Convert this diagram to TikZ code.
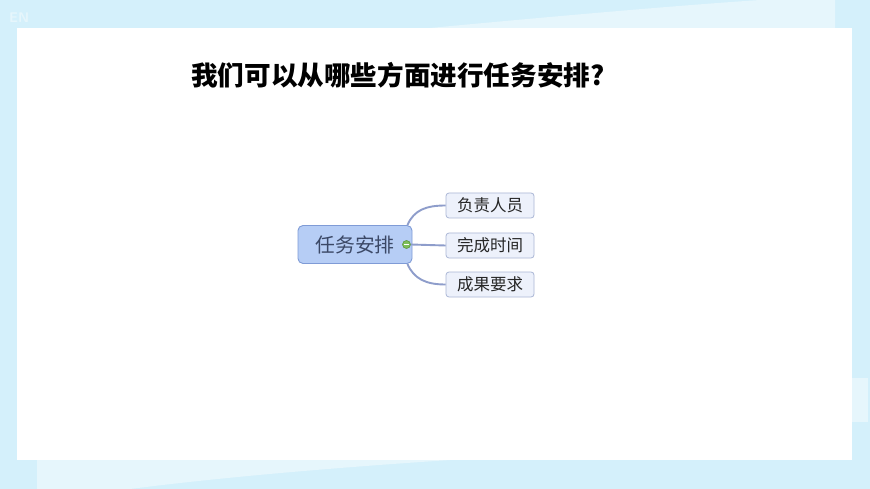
\documentclass[tikz,border=0pt]{standalone}
\usepackage{fontspec}
\newfontfamily\cjk{Noto Sans CJK SC}
\usetikzlibrary{calc}
\definecolor{bgblue}{HTML}{D4F0FB}
\definecolor{bglight}{HTML}{E6F6FC}
\definecolor{mainfill}{HTML}{B6CDF5}
\definecolor{mainborder}{HTML}{7F9BD6}
\definecolor{subfill}{HTML}{EDF1FB}
\definecolor{subborder}{HTML}{AAB6D6}
\definecolor{linkc}{HTML}{8E9DCB}
\definecolor{maintext}{HTML}{3B4866}
\definecolor{btngreen}{HTML}{7DBE5A}
\definecolor{btnborder}{HTML}{5E9A3E}
\tikzset{
  mainbox/.style={draw=mainborder, fill=mainfill, rounded corners=5pt, line width=0.9pt,
    minimum width=114pt, minimum height=38pt, inner sep=0pt,
    font=\cjk\fontsize{19.8pt}{22pt}\selectfont, text=maintext},
  subbox/.style={draw=subborder, fill=subfill, rounded corners=3pt, line width=0.8pt,
    minimum width=88pt, minimum height=25pt, inner sep=0pt,
    font=\cjk\fontsize{16.5pt}{18pt}\selectfont, text=black!85},
  link/.style={draw=linkc, line width=1.9pt},
  btn/.style={circle, draw=btnborder, fill=btngreen, line width=0.6pt, minimum size=8pt, inner sep=0pt}
}
\begin{document}
\begin{tikzpicture}[x=1pt,y=-1pt]
\useasboundingbox (0,0) rectangle (870,489);
% background
\fill[bgblue] (0,0) rectangle (870,489);
\fill[bglight] (430,28) .. controls (600,12) and (700,4) .. (760,0) -- (835,0) -- (835,28) -- cycle;
\fill[bglight] (37,460) -- (450,460) .. controls (300,470) and (200,480) .. (130,489) -- (37,489) -- cycle;
\fill[bglight] (852,378) -- (868,378) -- (868,422) -- (852,422) -- cycle;
\node[font=\sffamily\bfseries\fontsize{14pt}{16pt}\selectfont, text=bglight, anchor=west, inner sep=0pt] (en) at (9,18) {EN};
% white panel
\fill[white] (17,28) rectangle (852,460);
% title
\node[font=\cjk\bfseries\fontsize{26.6pt}{30pt}\selectfont, anchor=west, inner sep=0pt] (title) at (191,75) {我们可以从哪些方面进行任务安排?};
% mind map
\node[mainbox] (main) at (355,244.5) {任务安排};
\node[subbox] (s1) at (490,205.5) {负责人员};
\node[subbox] (s2) at (490,245.5) {完成时间};
\node[subbox] (s3) at (490,284.5) {成果要求};
\coordinate (t1) at ($(main.north east)+(-5,0)$);
\coordinate (t3) at ($(main.south east)+(-5,0)$);
\draw[link] (t1) .. controls (414,210) and (426,205.5) .. (s1.west);
\draw[link] (t3) .. controls (414,279) and (426,284.5) .. (s3.west);
\node[btn] (btn) at (406.5,244.5) {};
\draw[link] (btn.east) -- (s2.west);
\draw[white, line width=1pt] ($(btn.center)+(-2.2,0)$) -- ($(btn.center)+(2.2,0)$);
\end{tikzpicture}
\end{document}
